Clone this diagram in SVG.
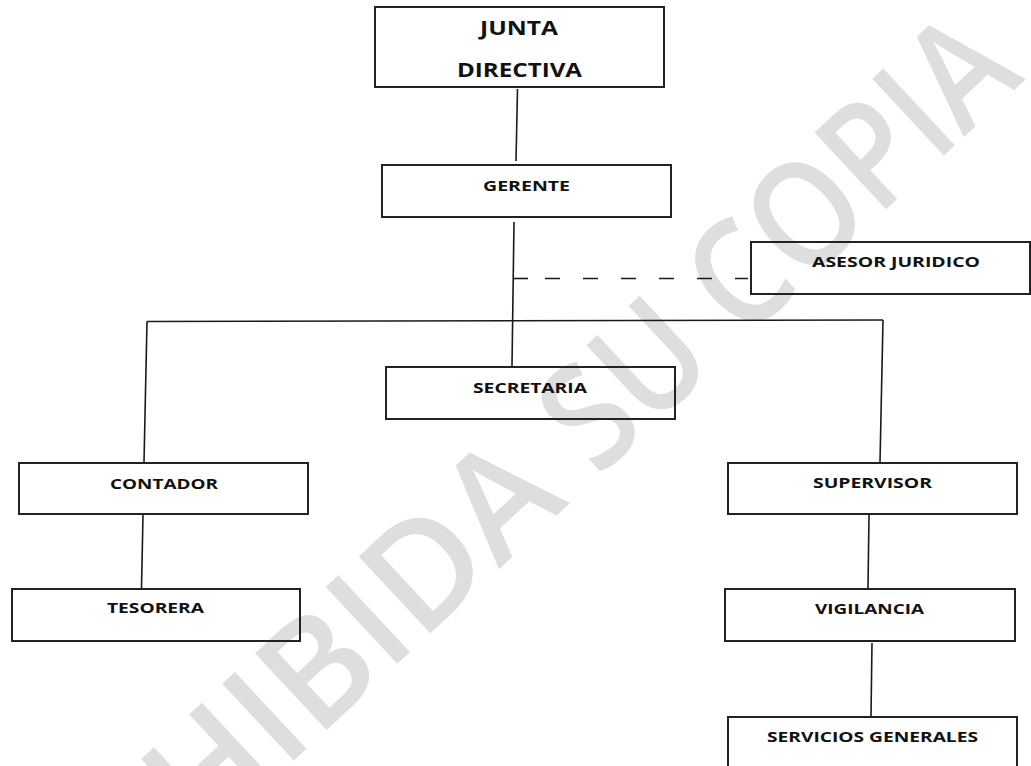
<svg xmlns="http://www.w3.org/2000/svg" width="1031" height="766" viewBox="0 0 1031 766">
  <style>
    .box { fill: none; stroke: #222; stroke-width: 2; }
    .lbl { font-family: "Open Sans", "Liberation Sans", sans-serif; font-weight: bold; font-size: 15px; fill: #111; text-anchor: middle; }
    .big { font-size: 19.5px; }
    .conn { fill: none; stroke: #1a1a1a; stroke-width: 1.6; }
    .dash { stroke-dasharray: 15 23; }
    .wm { font-family: "Open Sans", "Liberation Sans", sans-serif; font-weight: 600; font-size: 147px; fill: #dedede; }
  </style>
  <rect x="0" y="0" width="1031" height="766" fill="#ffffff"/>
  <g id="watermark">
    <text class="wm" transform="translate(570,503) rotate(-43)" x="0" y="0" text-anchor="end">PROHIBIDA</text>
    <text class="wm" transform="translate(598,478) rotate(-43)" x="0" y="0" textLength="585" lengthAdjust="spacingAndGlyphs">SU COPIA</text>
  </g>

  <g id="connectors">
    <line class="conn" x1="517.5" y1="89" x2="516" y2="161"/>
    <line class="conn" x1="514" y1="222" x2="512" y2="366"/>
    <line class="conn" x1="513" y1="278.5" x2="528" y2="278.5"/>
    <line class="conn dash" x1="545" y1="278.5" x2="748" y2="278.5"/>
    <line class="conn" x1="147" y1="321.5" x2="883" y2="320"/>
    <line class="conn" x1="147" y1="321.5" x2="144" y2="462"/>
    <line class="conn" x1="883" y1="320" x2="880" y2="462"/>
    <line class="conn" x1="143" y1="515" x2="141.5" y2="588"/>
    <line class="conn" x1="869" y1="515" x2="868" y2="588"/>
    <line class="conn" x1="872" y1="643" x2="871" y2="716"/>
  </g>

  <g id="junta-directiva">
    <rect class="box" x="375" y="7" width="289" height="80"/>
    <text class="lbl big" x="519" y="35" textLength="78" lengthAdjust="spacingAndGlyphs">JUNTA</text>
    <text class="lbl big" x="519.5" y="77" textLength="125" lengthAdjust="spacingAndGlyphs">DIRECTIVA</text>
  </g>
  <g id="gerente">
    <rect class="box" x="382" y="165" width="289" height="52"/>
    <text class="lbl" x="526.5" y="191" textLength="87" lengthAdjust="spacingAndGlyphs">GERENTE</text>
  </g>
  <g id="asesor-juridico">
    <rect class="box" x="751" y="242" width="279" height="52"/>
    <text class="lbl" x="896" y="267" textLength="168" lengthAdjust="spacingAndGlyphs">ASESOR JURIDICO</text>
  </g>
  <g id="secretaria">
    <rect class="box" x="386" y="367" width="289" height="52"/>
    <text class="lbl" x="530" y="393" textLength="114" lengthAdjust="spacingAndGlyphs">SECRETARIA</text>
  </g>
  <g id="contador">
    <rect class="box" x="19" y="463" width="289" height="51"/>
    <text class="lbl" x="164" y="489" textLength="108" lengthAdjust="spacingAndGlyphs">CONTADOR</text>
  </g>
  <g id="supervisor">
    <rect class="box" x="728" y="463" width="289" height="51"/>
    <text class="lbl" x="872.5" y="488" textLength="119" lengthAdjust="spacingAndGlyphs">SUPERVISOR</text>
  </g>
  <g id="tesorera">
    <rect class="box" x="12" y="589" width="288" height="52"/>
    <text class="lbl" x="155.5" y="613" textLength="97" lengthAdjust="spacingAndGlyphs">TESORERA</text>
  </g>
  <g id="vigilancia">
    <rect class="box" x="725" y="589" width="290" height="52"/>
    <text class="lbl" x="869.5" y="614" textLength="109" lengthAdjust="spacingAndGlyphs">VIGILANCIA</text>
  </g>
  <g id="servicios-generales">
    <rect class="box" x="728" y="717" width="289" height="60"/>
    <text class="lbl" x="872.5" y="742" textLength="211" lengthAdjust="spacingAndGlyphs">SERVICIOS GENERALES</text>
  </g>
</svg>
